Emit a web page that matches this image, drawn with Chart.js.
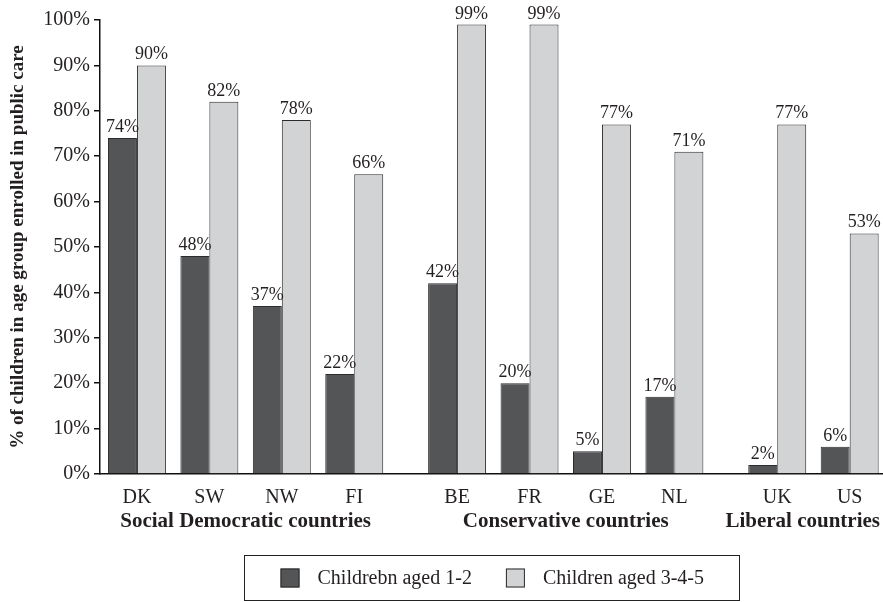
<!DOCTYPE html>
<html>
<head>
<meta charset="utf-8">
<script src="https://cdn.jsdelivr.net/npm/chart.js@4"></script>
<style>
  html, body { margin: 0; padding: 0; background: #ffffff; }
  #wrap { width: 883px; height: 602px; position: relative; }
</style>
</head>
<body>
<div id="wrap"><canvas id="chart"></canvas></div>
<script>
// Enrolment in public care, by country and welfare regime
const countries = ['DK', 'SW', 'NW', 'FI', 'BE', 'FR', 'GE', 'NL', 'UK', 'US'];
const regimeOf  = [0, 0, 0, 0, 1, 1, 1, 1, 2, 2];
const regimeNames = ['Social Democratic countries', 'Conservative countries', 'Liberal countries'];
const aged12  = [74, 48, 37, 22, 42, 20, 5, 17, 2, 6];
const aged345 = [90, 82, 78, 66, 99, 99, 77, 71, 77, 53];
const seriesNames = ['Childrebn aged 1-2', 'Children aged 3-4-5'];
const yTicks = [0, 10, 20, 30, 40, 50, 60, 70, 80, 90, 100];

const SERIF = '"Liberation Serif", "Times New Roman", serif';
const TEXT = '#231f20';
const DARK = '#545557';
const LIGHT = '#d2d3d5';
const EDGE = '#2b2b2b';
const REGIME_GAP = 0.42;   // extra space between regime groups, in category units

// x position of each country: its index plus a gap for every regime boundary passed
const xPos = countries.map((c, i) => i + regimeOf[i] * REGIME_GAP);

const toPoints = vals => vals.map((v, i) => ({ x: xPos[i], y: v }));

const annotate = {
  id: 'annotate',
  afterDatasetsDraw(chart) {
    const ctx = chart.ctx;
    ctx.save();
    ctx.font = '18px ' + SERIF;
    ctx.fillStyle = TEXT;
    ctx.textAlign = 'center';
    ctx.textBaseline = 'alphabetic';
    chart.data.datasets.forEach((ds, i) => {
      chart.getDatasetMeta(i).data.forEach((bar, j) => {
        ctx.fillText(ds.data[j].y + '%', bar.x, bar.y - 6);
      });
    });
    ctx.restore();
  },
  afterDraw(chart) {
    const ctx = chart.ctx;
    const xs = chart.scales.x;
    ctx.save();

    // regime names under the country labels
    ctx.font = 'bold 21px ' + SERIF;
    ctx.fillStyle = TEXT;
    ctx.textBaseline = 'alphabetic';
    ctx.textAlign = 'center';
    regimeNames.forEach((name, g) => {
      const members = xPos.filter((p, i) => regimeOf[i] === g);
      const first = xs.getPixelForValue(members[0]);
      const last = xs.getPixelForValue(members[members.length - 1]);
      const w = ctx.measureText(name).width;
      let cx = (first + last) / 2;
      cx = Math.min(cx, chart.width - 3 - w / 2);
      ctx.fillText(name, cx, xs.top + 53);
    });

    // boxed legend centred under the plot area
    ctx.font = '20px ' + SERIF;
    const sq = 19, gapText = 18, gapItem = 34, pad = 36;
    const widths = seriesNames.map(n => ctx.measureText(n).width);
    const content = sq + gapText + widths[0] + gapItem + sq + gapText + widths[1];
    const boxW = Math.round(content + 2 * pad);
    const boxH = 45;
    const cx = (chart.chartArea.left + chart.chartArea.right) / 2;
    const left = Math.round(cx - boxW / 2) + 0.5;
    const top = chart.height - boxH - 1.5;
    ctx.strokeStyle = '#222';
    ctx.lineWidth = 1;
    ctx.strokeRect(left, top, boxW, boxH);
    let x = left + pad;
    const midY = top + boxH / 2;
    ctx.textAlign = 'left';
    ctx.textBaseline = 'middle';
    chart.data.datasets.forEach((ds, i) => {
      ctx.fillStyle = ds.backgroundColor;
      ctx.fillRect(x, midY - sq / 2, sq, sq);
      ctx.strokeStyle = EDGE;
      ctx.strokeRect(x + 0.5, midY - sq / 2 + 0.5, sq - 1, sq - 1);
      x += sq + gapText;
      ctx.fillStyle = TEXT;
      ctx.fillText(seriesNames[i], x, midY + 1);
      x += widths[i] + gapItem;
    });
    ctx.restore();
  }
};

new Chart(document.getElementById('chart'), {
  type: 'bar',
  data: {
    datasets: [
      {
        label: seriesNames[0],
        data: toPoints(aged12),
        backgroundColor: DARK,
        borderColor: EDGE,
        borderWidth: 1
      },
      {
        label: seriesNames[1],
        data: toPoints(aged345),
        backgroundColor: LIGHT,
        borderColor: EDGE,
        borderWidth: 1
      }
    ]
  },
  options: {
    responsive: true,
    maintainAspectRatio: false,
    animation: false,
    categoryPercentage: 0.8,
    barPercentage: 1.0,
    layout: { padding: { top: 20, right: 0, bottom: 56, left: 0 } },
    plugins: {
      legend: { display: false },
      tooltip: { enabled: false }
    },
    scales: {
      x: {
        type: 'linear',
        offset: false,
        min: xPos[0] - 0.51,
        max: xPos[xPos.length - 1] + 0.46,
        afterBuildTicks: s => { s.ticks = xPos.map(v => ({ value: v })); },
        afterFit: s => { s.height = 72; },
        ticks: {
          autoSkip: false,
          maxRotation: 0,
          padding: 12,
          color: TEXT,
          font: { family: SERIF, size: 20 },
          callback: (v) => countries[xPos.indexOf(v)]
        },
        grid: { display: true, drawOnChartArea: false, drawTicks: false, offset: false },
        border: { display: true, color: '#111', width: 1.5 }
      },
      y: {
        min: 0,
        max: 100,
        afterBuildTicks: s => { s.ticks = yTicks.map(v => ({ value: v })); },
        afterFit: s => { s.width = 100; },
        ticks: {
          padding: 4,
          color: TEXT,
          font: { family: SERIF, size: 20 },
          callback: v => v + '%'
        },
        grid: { drawOnChartArea: false, drawTicks: true, tickLength: 6, color: '#111', lineWidth: 1.5 },
        border: { display: true, color: '#111', width: 1.5 },
        title: {
          display: true,
          text: '% of children in age group enrolled in public care',
          color: TEXT,
          font: { family: SERIF, size: 19, weight: 'bold' },
          padding: { top: 7, bottom: 0 }
        }
      }
    }
  },
  plugins: [annotate]
});
</script>
</body>
</html>
